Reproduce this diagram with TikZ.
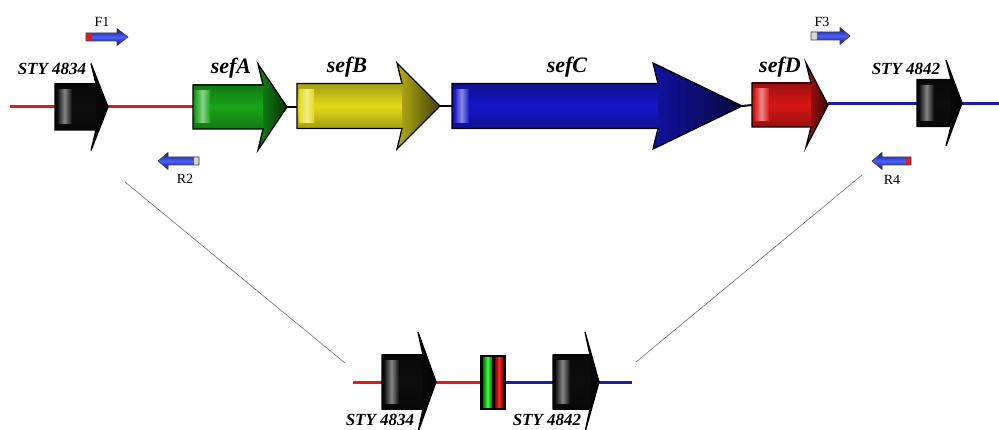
\documentclass[tikz,border=0pt]{standalone}
\usepackage{fontspec}
\setmainfont{Liberation Serif}
\definecolor{gA}{RGB}{25,165,25}
\definecolor{yB}{RGB}{228,218,25}
\definecolor{bC}{RGB}{22,22,200}
\definecolor{rD}{RGB}{215,22,22}
\definecolor{gk}{RGB}{12,12,12}
\definecolor{lred}{RGB}{222,30,30}
\definecolor{lblue}{RGB}{30,30,165}
\definecolor{capgrey}{RGB}{215,215,215}
\definecolor{pblue}{RGB}{25,35,200}
\definecolor{pblueL}{RGB}{75,95,250}
\newcommand{\genearrow}[7]{%
  \shade[top color=#7!72!black, bottom color=#7!72!black, middle color=#7] (#1,#4-#5) rectangle (#2+5,#4+#5);
  \shade[left color=#7!80!black, right color=#7!30!black] (#2+5,#4-#5) -- (#2,#4-#6) -- (#3,#4) -- (#2,#4+#6) -- (#2+5,#4+#5) -- cycle;
  \shade[left color=#7, right color=#7, middle color=#7!50!white] (#1+2,#4-#5+6) rectangle (#1+17,#4+#5-6);
  \draw[geneline] (#1,#4-#5) -- (#2+5,#4-#5) -- (#2,#4-#6) -- (#3,#4) -- (#2,#4+#6) -- (#2+5,#4+#5) -- (#1,#4+#5) -- cycle;
}
\newcommand{\primer}[6]{%
  \shade[top color=pblue!65!black, bottom color=pblue!65!black, middle color=pblueL] (#1,#5-4) -- (#3,#5-4) -- (#3,#5-8.5) -- (#4,#5) -- (#3,#5+8.5) -- (#3,#5+4) -- (#1,#5+4) -- cycle;
  \fill[#6] (#1,#5-4) rectangle (#2,#5+4);
  \draw[primline] (#1,#5-4) -- (#3,#5-4) -- (#3,#5-8.5) -- (#4,#5) -- (#3,#5+8.5) -- (#3,#5+4) -- (#1,#5+4) -- cycle;
}
\begin{document}
\begin{tikzpicture}[x=1pt,y=-1pt,
  geneline/.style={line width=1.3pt, line join=miter, draw=black},
  primline/.style={line width=0.6pt, draw=black!75},
  redline/.style={draw=lred, line width=3pt},
  blueline/.style={draw=lblue, line width=3pt},
  blackline/.style={draw=black, line width=2pt},
  greyline/.style={draw=black!55, line width=0.6pt},
  genelab/.style={font=\fontsize{22}{22}\selectfont\bfseries\itshape, inner sep=0pt},
  stylab/.style={font=\fontsize{17}{17}\selectfont\bfseries\itshape, inner sep=0pt},
  primlab/.style={font=\fontsize{14}{14}\selectfont, inner sep=0pt}]
\useasboundingbox (0,0) rectangle (999,430);
\begin{scope}
\clip (0,0) rectangle (999,430);
\fill[white] (0,0) rectangle (999,430);
% backbone lines
\coordinate (L0) at (10,107);
\coordinate (L1) at (193,107);
\coordinate (AB0) at (287,107);
\coordinate (AB1) at (297,107);
\coordinate (BC0) at (440,106);
\coordinate (BC1) at (452,106);
\coordinate (CD0) at (742,106);
\coordinate (CD1) at (752,105);
\coordinate (R0) at (828,104);
\coordinate (R1) at (999,104);
\draw[redline] (L0) -- (L1);
\draw[blackline] (AB0) -- (AB1);
\draw[blackline] (BC0) -- (BC1);
\draw[blackline] (CD0) -- (CD1);
\draw[blueline] (R0) -- (R1);
% bottom lines
\coordinate (B0) at (353,382);
\coordinate (B1) at (481,382);
\coordinate (B2) at (506,382);
\coordinate (B3) at (632,382);
\draw[redline] (B0) -- (B1);
\draw[blueline] (B2) -- (B3);
% top genes
\genearrow{55}{91}{108}{107}{23}{43.5}{gk}
\genearrow{193}{258}{287}{107}{22}{43}{gA}
\genearrow{297}{397}{440}{106}{22.5}{43}{yB}
\genearrow{452}{653}{742}{106}{22.5}{43}{bC}
\genearrow{752}{806}{828}{105}{22}{42}{rD}
\genearrow{917}{946}{962}{103}{23.5}{43}{gk}
% bottom genes
\genearrow{382}{418}{436}{382}{27}{50}{gk}
\genearrow{553}{585}{599}{382}{27}{50}{gk}
% scar box
\fill[black] (480,355) rectangle (506,410);
\shade[left color=green!45!black, right color=green!45!black, middle color=green!75!white] (483,358) rectangle (492,407);
\shade[left color=red!50!black, right color=red!50!black, middle color=red!85!white] (495,358) rectangle (503,407);
% primers
\primer{86}{92}{117}{128}{37}{lred}
\primer{199}{194}{168}{158}{161}{capgrey}
\primer{811}{817}{840}{850}{36}{capgrey}
\primer{911}{906}{882}{872}{161}{lred}
% labels
\node[genelab] (sefA) at (231,68) {sefA};
\node[genelab] (sefB) at (347,67) {sefB};
\node[genelab] (sefC) at (567,67) {sefC};
\node[genelab] (sefD) at (780,67) {sefD};
\node[stylab] (s4834) at (52,69) {STY 4834};
\node[stylab] (s4842) at (906,69) {STY 4842};
\node[stylab] (b4834) at (380,420) {STY 4834};
\node[stylab] (b4842) at (547,420) {STY 4842};
\node[primlab] (F1) at (102,22) {F1};
\node[primlab] (R2) at (185,179) {R2};
\node[primlab] (F3) at (822,22) {F3};
\node[primlab] (R4) at (892,180) {R4};
% connectors
\coordinate (cL0) at (125,182);
\coordinate (cL1) at (345,363);
\coordinate (cR0) at (862,175);
\coordinate (cR1) at (636,362);
\draw[greyline] (cL0) -- (cL1);
\draw[greyline] (cR0) -- (cR1);
\end{scope}
\end{tikzpicture}
\end{document}
